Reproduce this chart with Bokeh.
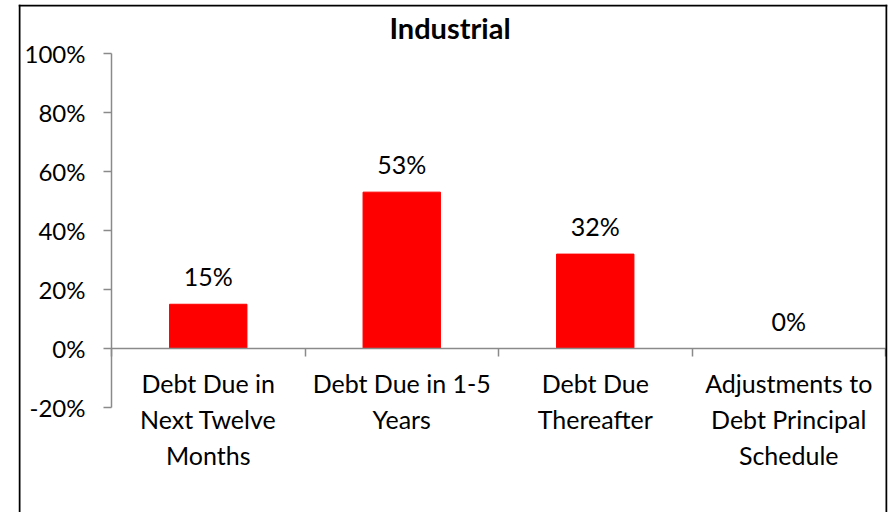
from bokeh.plotting import figure
from bokeh.models import (Range1d, LinearAxis, FixedTicker, ColumnDataSource,
                          NumeralTickFormatter, CustomJSTickFormatter, Label, Span)
from bokeh.core.properties import value
from bokeh.embed import file_html
from bokeh.resources import INLINE

title_text = "Industrial"
categories = ["Debt Due in Next Twelve Months", "Debt Due in 1-5 Years",
              "Debt Due Thereafter", "Adjustments to Debt Principal Schedule"]
category_labels = ["Debt Due in\nNext Twelve\nMonths", "Debt Due in 1-5\nYears",
                   "Debt Due\nThereafter", "Adjustments to\nDebt Principal\nSchedule"]
shares = [0.15, 0.53, 0.32, 0.0]
y_ticks = [-0.2, 0.0, 0.2, 0.4, 0.6, 0.8, 1.0]
y_axis_bounds = (-0.2, 1.0)

FONT = "Lato"
AXIS_COLOR = "#8a8a8a"

# ---- layout (pixels) ----
W, H = 892, 512
BOX_L, BOX_R, BOX_T, BOX_B = 18, 887, 4, 512      # chart border (frame)
PLOT_L, PLOT_R = 111, 885                           # category area
Y_TOP_PX, Y_ZERO_PX = 53, 348                       # pixel rows of 100% and 0%
TITLE_BASELINE_PX = 27

n = len(categories)
px_x = (PLOT_R - PLOT_L) / n
px_y = (Y_ZERO_PX - Y_TOP_PX) / 1.0
x_start = -(PLOT_L - BOX_L) / px_x
x_end = n + (BOX_R - PLOT_R) / px_x
y_end = 1.0 + (Y_TOP_PX - BOX_T) / px_y
y_start = 1.0 - (BOX_B - Y_TOP_PX) / px_y

centers = [i + 0.5 for i in range(n)]
bounds = list(range(n + 1))

p = figure(width=W, height=H, output_backend="svg", toolbar_location=None,
           x_range=Range1d(x_start, x_end), y_range=Range1d(y_start, y_end),
           tools="", x_axis_location=None, y_axis_location=None)
p.min_border_left = BOX_L
p.min_border_right = W - BOX_R
p.min_border_top = BOX_T
p.min_border_bottom = H - BOX_B
p.outline_line_color = None
p.background_fill_color = "white"
p.border_fill_color = "white"
p.grid.visible = False

# chart border: left, right and top sides (bottom is outside the picture)
edge = 1.0
for loc, dim in [(x_start + edge / px_x, "height"), (x_end - edge / px_x, "height"),
                 (y_end - edge / px_y, "width")]:
    p.add_layout(Span(location=loc, dimension=dim, line_color="#000000", line_width=2))

src = ColumnDataSource(dict(x=centers, cat=categories, share=shares,
                            label=[f"{round(v * 100)}%" for v in shares]))
p.vbar(x="x", top="share", bottom=0, width=0.4, source=src,
       fill_color="#ff0000", line_color="#ff0000", line_width=1)
p.text(x="x", y="share", text="label", source=src, text_align="center",
       text_baseline="alphabetic", y_offset=-28, text_font=value(FONT),
       text_font_size="25px", text_color="#000000")

# y axis, crossing at x = 0
ya = LinearAxis(ticker=FixedTicker(ticks=y_ticks),
                formatter=NumeralTickFormatter(format="0%"))
ya.fixed_location = 0
ya.bounds = y_axis_bounds
ya.axis_line_color = AXIS_COLOR
ya.axis_line_width = 1.5
ya.major_tick_line_color = AXIS_COLOR
ya.major_tick_line_width = 1.5
ya.major_tick_in = 0
ya.major_tick_out = 8
ya.minor_tick_line_color = None
ya.major_label_standoff = 18
ya.major_label_text_font = FONT
ya.major_label_text_font_size = "24px"
ya.major_label_text_color = "#000000"
p.add_layout(ya, "left")

# category label axis at y = 0
xa = LinearAxis(ticker=FixedTicker(ticks=centers),
                formatter=CustomJSTickFormatter(args=dict(labels=category_labels),
                                                code="return labels[Math.floor(tick)];"))
xa.fixed_location = 0
xa.bounds = (0, n)
xa.axis_line_color = AXIS_COLOR
xa.axis_line_width = 1.5
xa.major_tick_line_color = None
xa.minor_tick_line_color = None
xa.major_label_standoff = 13
xa.major_label_text_font = FONT
xa.major_label_text_font_size = "25px"
xa.major_label_text_color = "#000000"
p.add_layout(xa, "below")

# tick marks between categories
ta = LinearAxis(ticker=FixedTicker(ticks=bounds),
                formatter=CustomJSTickFormatter(code="return '';"))
ta.fixed_location = 0
ta.axis_line_color = None
ta.major_tick_line_color = AXIS_COLOR
ta.major_tick_line_width = 1.5
ta.major_tick_in = 0
ta.major_tick_out = 8
ta.minor_tick_line_color = None
ta.major_label_text_font_size = "1px"
p.add_layout(ta, "below")

# title inside the bordered chart area
title_y = 1.0 + (Y_TOP_PX - TITLE_BASELINE_PX) / px_y
p.add_layout(Label(x=(x_start + x_end) / 2, y=title_y, x_offset=-3, text=title_text,
                   text_align="center", text_baseline="alphabetic",
                   text_font=FONT, text_font_size="29px", text_font_style="bold",
                   text_color="#000000"))

open("out.html", "w").write(file_html(p, INLINE))
